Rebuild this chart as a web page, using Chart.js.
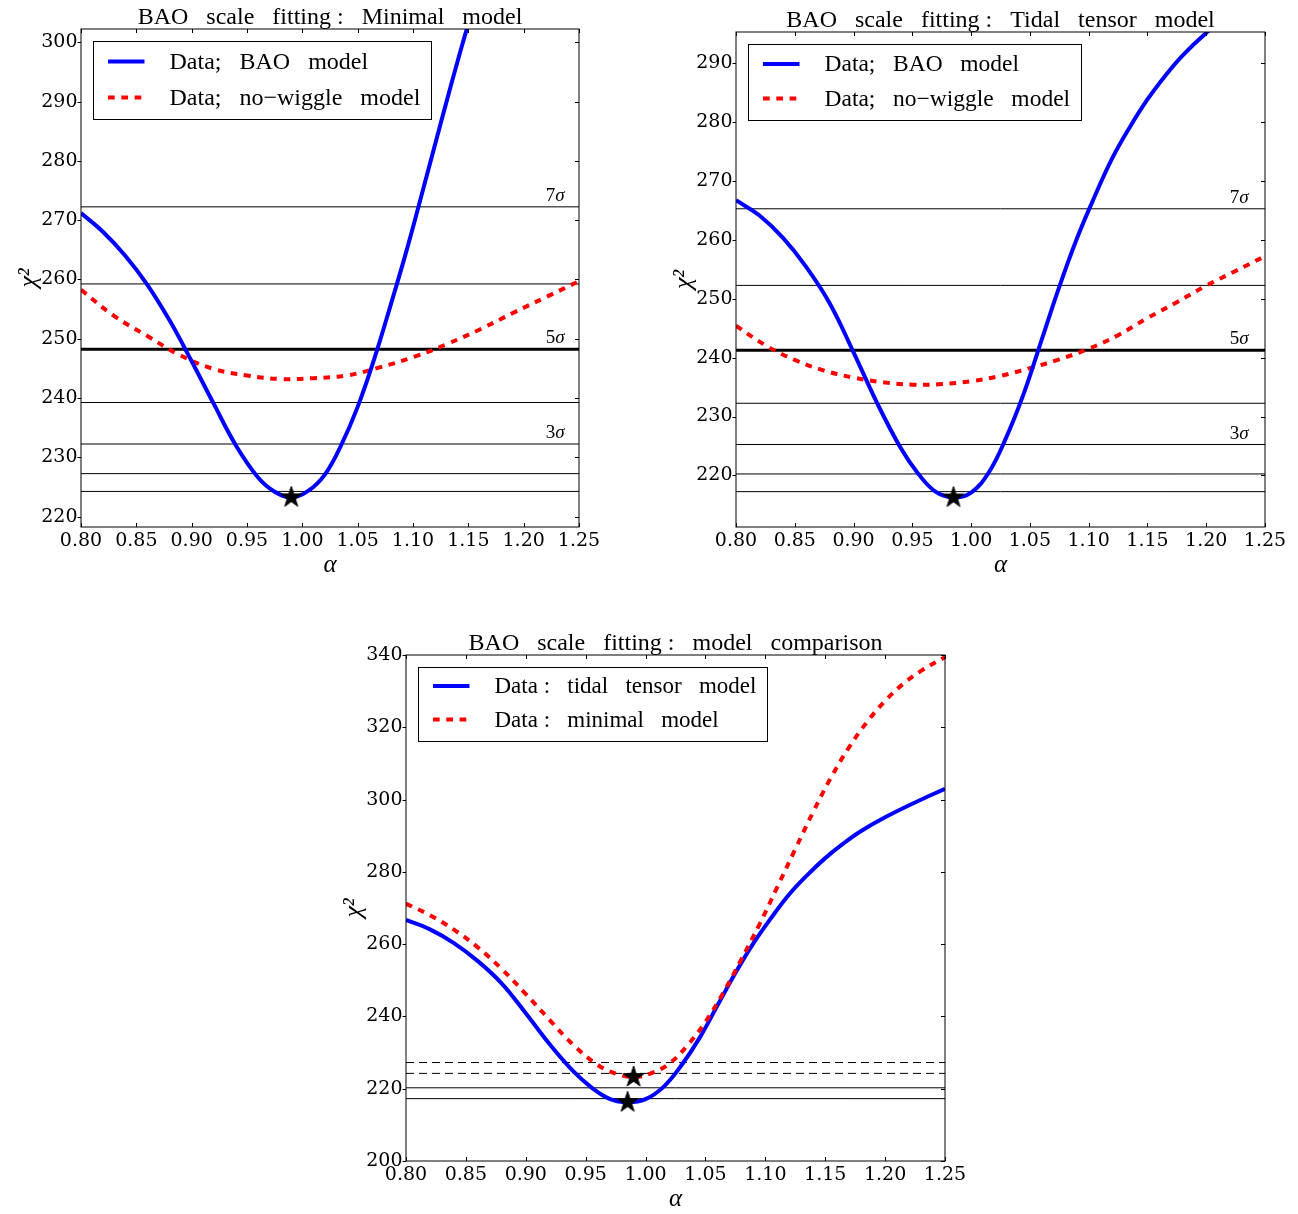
<!DOCTYPE html>
<html><head><meta charset="utf-8">
<script src="https://cdn.jsdelivr.net/npm/chart.js@4.4.1/dist/chart.umd.min.js"></script>
<style>
html,body{margin:0;padding:0;background:#fff;}
body{width:1298px;height:1214px;position:relative;overflow:hidden;}
canvas{position:absolute;}
</style></head><body>
<canvas id="c1" width="640" height="580" style="left:0px;top:0px;width:640px;height:580px"></canvas>
<canvas id="c2" width="648" height="580" style="left:650px;top:0px;width:648px;height:580px"></canvas>
<canvas id="c3" width="700" height="594" style="left:300px;top:620px;width:700px;height:594px"></canvas>
<script>
// ---------------- data ----------------
const alphaTicks = [0.80, 0.85, 0.90, 0.95, 1.00, 1.05, 1.10, 1.15, 1.20, 1.25];
const tlYTicks = [220, 230, 240, 250, 260, 270, 280, 290, 300];
const trYTicks = [220, 230, 240, 250, 260, 270, 280, 290];
const cmpYTicks = [200, 220, 240, 260, 280, 300, 320, 340];

// Minimal model, BAO template (top-left blue, bottom red)
const minimalBaoAlpha = [0.80, 0.82, 0.84, 0.86, 0.88, 0.90, 0.92, 0.94, 0.96, 0.975, 0.99, 1.005, 1.02, 1.035, 1.05, 1.065, 1.08, 1.095, 1.11, 1.125, 1.14, 1.155, 1.17, 1.185, 1.20, 1.215, 1.23, 1.25];
const minimalBaoChi2  = [271.2, 268.0, 264.0, 259.1, 253.1, 246.2, 239.0, 232.0, 226.6, 224.2, 223.24, 224.3, 227.0, 232.0, 238.5, 246.6, 255.8, 265.4, 275.8, 286.3, 296.6, 306.2, 314.5, 321.5, 327.3, 332.0, 335.6, 339.4];
// Minimal model, no-wiggle template (top-left red)
const minimalNwAlpha = [0.80, 0.8295, 0.8596, 0.8897, 0.9198, 0.95, 0.98, 1.0102, 1.0404, 1.0705, 1.1005, 1.1307, 1.1608, 1.1909, 1.2211, 1.25];
const minimalNwChi2  = [258.25, 253.9, 250.5, 247.2, 244.9, 243.8, 243.2, 243.35, 243.8, 245.2, 246.9, 249.1, 251.6, 254.4, 257.1, 259.7];
// Tidal tensor model, BAO template (top-right blue, bottom blue)
const tidalBaoAlpha = [0.80, 0.82, 0.84, 0.86, 0.88, 0.90, 0.92, 0.94, 0.955, 0.97, 0.985, 1.00, 1.015, 1.03, 1.045, 1.06, 1.075, 1.09, 1.105, 1.12, 1.135, 1.15, 1.165, 1.18, 1.20, 1.225, 1.25];
const tidalBaoChi2  = [266.7, 264.1, 260.3, 255.3, 249.1, 240.9, 232.3, 224.7, 220.3, 217.2, 216.25, 217.1, 220.5, 226.5, 234.0, 243.0, 252.0, 260.2, 267.3, 273.8, 279.1, 283.8, 287.8, 291.3, 295.1, 299.2, 303.0];
// Tidal tensor model, no-wiggle template (top-right red)
const tidalNwAlpha = [0.80, 0.825, 0.85, 0.875, 0.90, 0.925, 0.95, 0.975, 1.00, 1.025, 1.05, 1.075, 1.10, 1.125, 1.15, 1.175, 1.20, 1.225, 1.25];
const tidalNwChi2  = [245.4, 242.1, 239.6, 237.8, 236.6, 235.8, 235.4, 235.5, 236.0, 236.9, 238.2, 239.7, 241.5, 243.8, 246.7, 249.4, 252.2, 254.7, 257.2];

// confidence levels (chi2_min + n^2, n = 1..7)
const minimalLevels = [224.24, 227.24, 232.24, 239.24, 248.24, 259.24, 272.24];
const tidalLevels   = [217.25, 220.25, 225.25, 232.25, 241.25, 252.25, 265.25];
const sigmaLabelN = [3, 5, 7];
const minimalBest = [0.99, 223.24];
const tidalBest   = [0.985, 216.25];
const cmpDashedLevels = [224.24, 227.24];
const cmpSolidLevels  = [217.25, 220.25];

const tlRange = [218.24, 302.24];
const trRange = [211.25, 295.25];
const cmpRange = [200, 340];

// ---------------- helpers ----------------
Chart.defaults.color = '#000';
Chart.defaults.font.family = 'DejaVu Serif';

function makeStar(R) {
  const c = document.createElement('canvas');
  const s = Math.ceil(2 * R + 4);
  c.width = s; c.height = s;
  const g = c.getContext('2d');
  g.translate(s / 2, s / 2);
  g.beginPath();
  for (let k = 0; k < 10; k++) {
    const r = k % 2 === 0 ? R : R * 0.381966;
    const a = -Math.PI / 2 + k * Math.PI / 5;
    g.lineTo(r * Math.cos(a), r * Math.sin(a));
  }
  g.closePath();
  g.fillStyle = '#000'; g.fill();
  g.lineWidth = 1; g.strokeStyle = '#000'; g.stroke();
  return c;
}
const starImg = makeStar(11);

function curve(alphas, chi2, color, dash, label, rank) {
  return {
    type: 'line', label: label,
    data: alphas.map((a, i) => ({x: a, y: chi2[i]})),
    borderColor: color, backgroundColor: color, borderWidth: 4, borderDash: dash,
    borderCapStyle: 'butt', pointRadius: 0, pointHoverRadius: 0, fill: false,
    tension: 0.4, legendRank: rank
  };
}
function hline(level, width, dash) {
  return {
    type: 'line',
    data: [{x: alphaTicks[0], y: level}, {x: alphaTicks[alphaTicks.length - 1], y: level}],
    borderColor: '#000', borderWidth: width, borderDash: dash || [],
    pointRadius: 0, pointHoverRadius: 0, fill: false, tension: 0
  };
}
function star(pt) {
  return {
    type: 'line', data: [{x: pt[0], y: pt[1]}], showLine: false,
    pointStyle: starImg, pointRadius: 11, pointHoverRadius: 11, clip: false
  };
}

const mplPlugin = {
  id: 'mpl',
  afterDraw(chart, args, opts) {
    const {ctx, chartArea: ca, scales} = chart;
    const xs = scales.x, ys = scales.y;
    ctx.save();
    // sigma labels
    (opts.sigmaLabels || []).forEach(s => {
      const px = xs.getPixelForValue(s.x), py = ys.getPixelForValue(s.y);
      ctx.fillStyle = '#000'; ctx.textBaseline = 'alphabetic'; ctx.textAlign = 'left';
      ctx.font = '19px "Liberation Serif"';
      ctx.fillText(s.n, px, py);
      const w = ctx.measureText(s.n).width;
      ctx.font = 'italic 19px "Liberation Serif"';
      ctx.fillText('σ', px + w, py);
    });
    // frame
    ctx.setLineDash([]);
    ctx.strokeStyle = '#000'; ctx.lineWidth = 1;
    ctx.strokeRect(ca.left, ca.top, ca.right - ca.left, ca.bottom - ca.top);
    // ticks
    ctx.beginPath();
    xs.ticks.forEach(t => {
      const px = Math.round(xs.getPixelForValue(t.value)) + 0.5;
      ctx.moveTo(px, ca.bottom); ctx.lineTo(px, ca.bottom - 4);
      ctx.moveTo(px, ca.top); ctx.lineTo(px, ca.top + 4);
    });
    ys.ticks.forEach(t => {
      const py = Math.round(ys.getPixelForValue(t.value)) + 0.5;
      ctx.moveTo(ca.left, py); ctx.lineTo(ca.left - 3.5, py);
      ctx.moveTo(ca.right, py); ctx.lineTo(ca.right - 4, py);
    });
    ctx.stroke();
    // title
    ctx.fillStyle = '#000';
    ctx.font = '24px "Liberation Serif"';
    ctx.textAlign = 'center'; ctx.textBaseline = 'alphabetic';
    ctx.fillText(opts.title, (ca.left + ca.right) / 2, ca.top - 5);
    // legend
    const items = chart.data.datasets.filter(d => d.legendRank !== undefined)
      .sort((a, b) => a.legendRank - b.legendRank);
    const lg = opts.legend;
    ctx.font = lg.size + 'px "Liberation Serif"';
    const maxW = Math.max(...items.map(d => ctx.measureText(d.label).width));
    const bx = Math.round(ca.left + 11.5) + 0.5, by = Math.round(ca.top + 11.5) + 0.5;
    const bw = Math.round(76 + maxW + 11), bh = Math.round(lg.top + lg.gap * (items.length - 1) + lg.bottom);
    ctx.fillStyle = '#fff'; ctx.fillRect(bx, by, bw, bh);
    ctx.strokeStyle = '#000'; ctx.lineWidth = 1; ctx.strokeRect(bx, by, bw, bh);
    items.forEach((d, i) => {
      const y = by + lg.top + i * lg.gap;
      ctx.strokeStyle = d.borderColor; ctx.lineWidth = d.borderWidth;
      ctx.lineCap = 'butt';
      ctx.setLineDash(d.borderDash || []);
      ctx.beginPath(); ctx.moveTo(bx + 14.5, y); ctx.lineTo(bx + 51, y); ctx.stroke();
      ctx.setLineDash([]);
      ctx.fillStyle = '#000'; ctx.textAlign = 'left'; ctx.textBaseline = 'middle';
      ctx.fillText(d.label, bx + 76, y + 1);
    });
    ctx.restore();
  }
};

function makeScales(yRange, yTicks, yWidth, yTitlePad, xHeight) {
  return {
    x: {
      type: 'linear', min: alphaTicks[0], max: alphaTicks[alphaTicks.length - 1],
      afterBuildTicks: s => { s.ticks = alphaTicks.map(v => ({value: v})); },
      afterFit: s => { s.height = xHeight; },
      grid: {display: false, drawTicks: false}, border: {display: false},
      ticks: {autoSkip: false, minRotation: 0, maxRotation: 0, padding: 3, color: '#000',
        font: {family: 'DejaVu Serif', size: 19}, callback: v => Number(v).toFixed(2)},
      title: {display: true, text: 'α', color: '#000', padding: {top: 0, bottom: 0},
        font: {family: 'Liberation Serif', size: 25, style: 'italic'}}
    },
    y: {
      type: 'linear', min: yRange[0], max: yRange[1],
      afterBuildTicks: s => { s.ticks = yTicks.map(v => ({value: v})); },
      afterFit: s => { s.width = yWidth; },
      grid: {display: false, drawTicks: false}, border: {display: false},
      ticks: {autoSkip: false, padding: 3.5, color: '#000',
        font: {family: 'DejaVu Serif', size: 19}, callback: v => String(Math.round(v))},
      title: {display: true, text: 'χ²', color: '#000', padding: {top: yTitlePad, bottom: yTitlePad},
        font: {family: 'Liberation Serif', size: 26, style: 'italic'}}
    }
  };
}

function baseOptions(pad, scales, plug) {
  return {
    responsive: false, animation: false, events: [],
    layout: {padding: pad},
    plugins: {legend: {display: false}, tooltip: {enabled: false}, mpl: plug},
    scales: scales
  };
}

const thickIdx = 4; // 5 sigma

// ---------------- chart 1: minimal model ----------------
new Chart(document.getElementById('c1'), {
  type: 'line',
  data: {datasets: [
    star(minimalBest),
    curve(minimalBaoAlpha, minimalBaoChi2, '#0000ff', [], 'Data;   BAO   model', 0),
    curve(minimalNwAlpha, minimalNwChi2, '#ff0000', [6.7, 6.6], 'Data;   no\u2212wiggle   model', 1),
    ...minimalLevels.map((v, i) => hline(v, i === thickIdx ? 3 : 1))
  ]},
  options: baseOptions({left: 0, top: 29, right: 61, bottom: 0},
    makeScales(tlRange, tlYTicks, 81, 13.5, 53),
    {title: 'BAO   scale   fitting :   Minimal   model',
     sigmaLabels: sigmaLabelN.map(n => ({n: String(n), x: 1.22, y: minimalLevels[n - 1] + 1})),
     legend: {size: 24, top: 20, gap: 36, bottom: 22}}),
  plugins: [mplPlugin]
});

// ---------------- chart 2: tidal tensor model ----------------
new Chart(document.getElementById('c2'), {
  type: 'line',
  data: {datasets: [
    star(tidalBest),
    curve(tidalBaoAlpha, tidalBaoChi2, '#0000ff', [], 'Data;   BAO   model', 0),
    curve(tidalNwAlpha, tidalNwChi2, '#ff0000', [6.7, 6.6], 'Data;   no\u2212wiggle   model', 1),
    ...tidalLevels.map((v, i) => hline(v, i === thickIdx ? 3 : 1))
  ]},
  options: baseOptions({left: 0, top: 32, right: 33, bottom: 0},
    makeScales(trRange, trYTicks, 86, 18.5, 53),
    {title: 'BAO   scale   fitting :   Tidal   tensor   model',
     sigmaLabels: sigmaLabelN.map(n => ({n: String(n), x: 1.22, y: tidalLevels[n - 1] + 1})),
     legend: {size: 23.5, top: 19.5, gap: 34.5, bottom: 22}}),
  plugins: [mplPlugin]
});

// ---------------- chart 3: comparison ----------------
new Chart(document.getElementById('c3'), {
  type: 'line',
  data: {datasets: [
    star(minimalBest),
    star(tidalBest),
    curve(minimalBaoAlpha, minimalBaoChi2, '#ff0000', [6.7, 6.6], 'Data :   minimal   model', 1),
    curve(tidalBaoAlpha, tidalBaoChi2, '#0000ff', [], 'Data :   tidal   tensor   model', 0),
    ...cmpDashedLevels.map(v => hline(v, 1, [8, 5])),
    ...cmpSolidLevels.map(v => hline(v, 1))
  ]},
  options: baseOptions({left: 0, top: 35, right: 55, bottom: 0},
    makeScales(cmpRange, cmpYTicks, 106, 38.5, 53),
    {title: 'BAO   scale   fitting :   model   comparison',
     sigmaLabels: [],
     legend: {size: 23, top: 18.5, gap: 33.5, bottom: 21.5}}),
  plugins: [mplPlugin]
});
</script>
</body></html>
